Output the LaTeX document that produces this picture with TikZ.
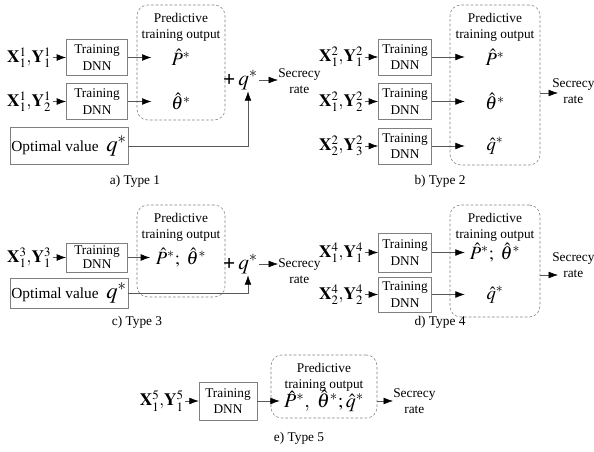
\documentclass[tikz,border=0pt]{standalone}
\usepackage{amsmath}
\usepackage{mathptmx}
\usepackage{fontspec}
\setmainfont{Liberation Serif}
\usetikzlibrary{arrows.meta,positioning,fit}

\begin{document}
\begin{tikzpicture}[x=0.75pt,y=-0.75pt,>={Latex[length=7pt,width=5pt,color=black]},
  font=\fontsize{10}{12.5}\selectfont]
  \tikzstyle{dnn}=[draw=gray,minimum width=46pt,minimum height=27pt,inner sep=1pt,align=center]
  \tikzstyle{inp}=[inner sep=1pt,font=\fontsize{13}{15}\selectfont]
  \tikzstyle{outbox}=[draw=gray,dash pattern=on 2pt off 1.5pt,rounded corners=8pt,inner sep=0pt]
  \tikzstyle{title}=[align=center,anchor=north,inner sep=1pt,yshift=-5pt]
  \tikzstyle{outp}=[minimum width=44pt,inner sep=1pt,font=\fontsize{14}{16}\selectfont]
  \tikzstyle{opt}=[draw=gray,minimum width=88pt,minimum height=28pt,inner sep=1pt,font=\fontsize{11.5}{13}\selectfont]
  \tikzstyle{qq}=[inner sep=1pt,font=\fontsize{16}{18}\selectfont]
  \tikzstyle{sec}=[align=center,anchor=west,inner sep=0pt]
  \tikzstyle{arr}=[draw=gray!70!black,->]

  \useasboundingbox (0,0) rectangle (594,452);

  % a) Type 1
  \node[dnn] (d11) at (97,57.5) {Training\\DNN};
  \node[dnn] (d12) at (97,101.5) {Training\\DNN};
  \node[inp,left=10pt of d11] (x11) {$\mathbf{X}_1^1{,}\mathbf{Y}_1^1$};
  \node[inp,left=10pt of d12] (x12) {$\mathbf{X}_1^1{,}\mathbf{Y}_2^1$};
  \node[outbox,fit={(137,5) (225,120)}] (o1) {};
  \node[title] (t1) at (o1.north) {Predictive\\training output};
  \node[outp] (p11) at (d11 -| o1) {$\hat{P}^*$};
  \node[outp] (p12) at (d12 -| o1) {$\hat{\theta}^*$};
  \node[opt] (opt1) at (69,146) {Optimal value\enspace{\fontsize{17}{18}\selectfont$q^*$}};
  \node[qq] (q1) at (248,80) {$q^*$};
  \node[qq,left=0pt of q1] (pl1) {\textbf{+}};
  \node[sec] (sr1) at (278,81) {Secrecy\\rate};
  \node (c1) at (135,181) {a) Type 1};
  \draw[arr] (x11) -- (d11);
  \draw[arr] (x12) -- (d12);
  \draw[arr] (d11) -- (p11);
  \draw[arr] (d12) -- (p12);
  \draw[arr] (opt1) -| (q1);
  \draw[arr] (q1) -- (q1 -| sr1.west);

  % b) Type 2
  \node[dnn,minimum width=40pt] (d21) at (405,57) {Training\\DNN};
  \node[dnn,minimum width=40pt] (d22) at (405,101.5) {Training\\DNN};
  \node[dnn,minimum width=40pt] (d23) at (405,146) {Training\\DNN};
  \node[inp,left=10pt of d21] (x21) {$\mathbf{X}_1^2{,}\mathbf{Y}_1^2$};
  \node[inp,left=10pt of d22] (x22) {$\mathbf{X}_1^2{,}\mathbf{Y}_2^2$};
  \node[inp,left=10pt of d23] (x23) {$\mathbf{X}_2^2{,}\mathbf{Y}_3^2$};
  \node[outbox,fit={(450,5) (540,165)}] (o2) {};
  \node[title] (t2) at (o2.north) {Predictive\\training output};
  \node[outp,minimum width=45pt] (p21) at (d21 -| o2) {$\hat{P}^*$};
  \node[outp,minimum width=45pt] (p22) at (d22 -| o2) {$\hat{\theta}^*$};
  \node[outp,minimum width=45pt] (p23) at (d23 -| o2) {$\hat{q}^*$};
  \node[sec] (sr2) at (552,91) {Secrecy\\rate};
  \coordinate (a2) at (558,93);
  \node (c2) at (440,181) {b) Type 2};
  \draw[arr] (x21) -- (d21);
  \draw[arr] (x22) -- (d22);
  \draw[arr] (x23) -- (d23);
  \draw[arr] (d21) -- (p21);
  \draw[arr] (d22) -- (p22);
  \draw[arr] (d23) -- (p23);
  \draw[arr] (o2.east |- a2) -- (a2);

  % c) Type 3
  \node[dnn,minimum height=22pt,font=\fontsize{10}{10.5}\selectfont] (d31) at (97,257.5) {Training\\DNN};
  \node[inp,left=10pt of d31] (x31) {$\mathbf{X}_1^3{,}\mathbf{Y}_1^3$};
  \node[outbox,fit={(137,205) (225,297)}] (o3) {};
  \node[title] (t3) at (o3.north) {Predictive\\training output};
  \node[outp,minimum width=46pt] (p31) at (d31 -| o3) {$\hat{P}^*;\ \hat{\theta}^*$};
  \node[opt,minimum height=22.5pt] (opt3) at (69,293) {Optimal value\enspace{\fontsize{17}{18}\selectfont$q^*$}};
  \node[qq] (q3) at (248,264) {$q^*$};
  \node[qq,left=0pt of q3] (pl3) {\textbf{+}};
  \node[sec] (sr3) at (278,271) {Secrecy\\rate};
  \node (c3) at (137,322) {c) Type 3};
  \draw[arr] (x31) -- (d31);
  \draw[arr] (d31) -- (p31);
  \draw[arr] (opt3) -| (q3);
  \draw[arr] (q3) -- (q3 -| sr3.west);

  % d) Type 4
  \node[dnn,minimum width=40pt,minimum height=29pt] (d41) at (405,252.5) {Training\\DNN};
  \node[dnn,minimum width=40pt,minimum height=26pt] (d42) at (405,294.5) {Training\\DNN};
  \node[inp,left=10pt of d41] (x41) {$\mathbf{X}_1^4{,}\mathbf{Y}_1^4$};
  \node[inp,left=10pt of d42] (x42) {$\mathbf{X}_2^4{,}\mathbf{Y}_2^4$};
  \node[outbox,fit={(450,205) (540,317)}] (o4) {};
  \node[title] (t4) at (o4.north) {Predictive\\training output};
  \node[outp,minimum width=45pt] (p41) at (d41 -| o4) {$\hat{P}^*;\ \hat{\theta}^*$};
  \node[outp,minimum width=45pt] (p42) at (d42 -| o4) {$\hat{q}^*$};
  \node[sec] (sr4) at (552,265) {Secrecy\\rate};
  \coordinate (a4) at (558,275);
  \node (c4) at (440,322) {d) Type 4};
  \draw[arr] (x41) -- (d41);
  \draw[arr] (x42) -- (d42);
  \draw[arr] (d41) -- (p41);
  \draw[arr] (d42) -- (p42);
  \draw[arr] (o4.east |- a4) -- (a4);

  % e) Type 5
  \node[dnn,minimum width=43.5pt,minimum height=28.5pt] (d51) at (228,401) {Training\\DNN};
  \node[inp,left=10pt of d51] (x51) {$\mathbf{X}_1^5{,}\mathbf{Y}_1^5$};
  \node[outbox,fit={(271,355) (377,418)}] (o5) {};
  \node[title] (t5) at (o5.north) {Predictive\\training output};
  \node[outp,minimum width=66pt,font=\fontsize{15}{17}\selectfont] (p51) at (d51 -| o5) {$\hat{P}^*,\ \hat{\theta}^*;\hat{q}^*$};
  \node[sec] (sr5) at (393,401) {Secrecy\\rate};
  \node (c5) at (299,438) {e) Type 5};
  \draw[arr] (x51) -- (d51);
  \draw[arr] (d51) -- (p51);
  \draw[arr] (o5.east |- sr5.west) -- (sr5.west);
\end{tikzpicture}
\end{document}
